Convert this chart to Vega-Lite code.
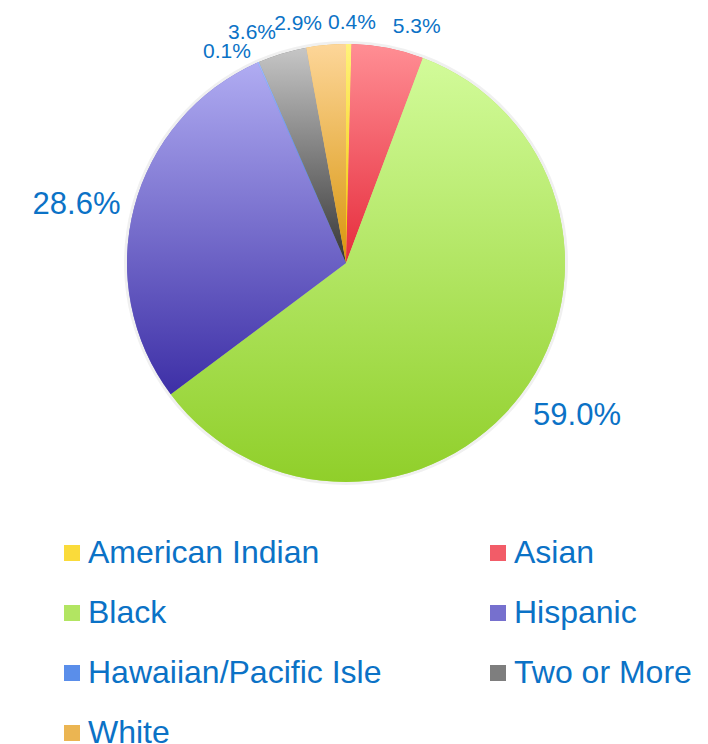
{
  "$schema": "https://vega.github.io/schema/vega-lite/v6.json",
  "width": 692,
  "height": 526,
  "padding": 0,
  "background": "white",
  "config": {"view": {"stroke": null}},
  "params": [
    {
      "name": "grad",
      "value": {
        "American Indian": {"gradient": "linear", "x1": 0, "y1": 0, "x2": 0, "y2": 1, "stops": [{"offset": 0, "color": "#FFF27A"}, {"offset": 1, "color": "#F5C400"}]},
        "Asian": {"gradient": "linear", "x1": 0, "y1": 0, "x2": 0, "y2": 1, "stops": [{"offset": 0, "color": "#FF8E94"}, {"offset": 1, "color": "#E62C3C"}]},
        "Black": {"gradient": "linear", "x1": 0, "y1": 0, "x2": 0, "y2": 1, "stops": [{"offset": 0, "color": "#D2FB9A"}, {"offset": 1, "color": "#90CF2A"}]},
        "Hispanic": {"gradient": "linear", "x1": 0, "y1": 0, "x2": 0, "y2": 1, "stops": [{"offset": 0, "color": "#B0ACF2"}, {"offset": 1, "color": "#3D2FA6"}]},
        "Hawaiian/Pacific Isle": {"gradient": "linear", "x1": 0, "y1": 0, "x2": 0, "y2": 1, "stops": [{"offset": 0, "color": "#A0BCFF"}, {"offset": 1, "color": "#1560D6"}]},
        "Two or More": {"gradient": "linear", "x1": 0, "y1": 0, "x2": 0, "y2": 1, "stops": [{"offset": 0, "color": "#C6C6C6"}, {"offset": 1, "color": "#363636"}]},
        "White": {"gradient": "linear", "x1": 0, "y1": 0, "x2": 0, "y2": 1, "stops": [{"offset": 0, "color": "#FDD699"}, {"offset": 1, "color": "#D8950C"}]}
      }
    }
  ],
  "data": {
    "values": [
      {"race": "American Indian", "pct": 0.4, "label": "0.4%", "rank": 1},
      {"race": "Asian", "pct": 5.3, "label": "5.3%", "rank": 2},
      {"race": "Black", "pct": 59.0, "label": "59.0%", "rank": 3},
      {"race": "Hispanic", "pct": 28.6, "label": "28.6%", "rank": 4},
      {"race": "Hawaiian/Pacific Isle", "pct": 0.1, "label": "0.1%", "rank": 5},
      {"race": "Two or More", "pct": 3.6, "label": "3.6%", "rank": 6},
      {"race": "White", "pct": 2.9, "label": "2.9%", "rank": 7}
    ]
  },
  "encoding": {
    "theta": {"field": "pct", "type": "quantitative", "stack": true},
    "order": {"field": "rank", "type": "quantitative"}
  },
  "layer": [
    {
      "mark": {"type": "arc", "outerRadius": 222, "fill": "#000000", "opacity": 0.06}
    },
    {
      "mark": {"type": "arc", "outerRadius": 219},
      "encoding": {
        "color": {
          "field": "race",
          "type": "nominal",
          "sort": null,
          "scale": {
            "domain": ["American Indian", "Asian", "Black", "Hispanic", "Hawaiian/Pacific Isle", "Two or More", "White"],
            "range": ["#FADB3A", "#F25C68", "#B2E562", "#7670CE", "#5A8EEA", "#7E7E7E", "#EBB552"]
          },
          "legend": {
            "title": null,
            "orient": "none",
            "direction": "horizontal",
            "legendX": 56,
            "legendY": 537,
            "columns": 2,
            "columnPadding": 100,
            "rowPadding": 28,
            "padding": 0,
            "symbolType": "square",
            "symbolSize": 256,
            "symbolStrokeWidth": 0,
            "labelFont": "Liberation Sans",
            "labelFontSize": 32,
            "labelColor": "#0B72C6",
            "labelOffset": 0,
            "labelLimit": 500,
            "symbolOpacity": 1
          }
        }
      }
    },
    {
      "mark": {"type": "arc", "outerRadius": 219, "fill": {"expr": "grad[datum.race]"}, "opacity": 1}
    },
    {
      "mark": {
        "type": "text",
        "radius": 230,
        "font": "Liberation Sans",
        "fontSize": {"expr": "datum.pct > 20 ? 31 : 21"},
        "color": "#0B72C6",
        "dx": {"expr": "sin(PI * (datum.pct_start + datum.pct_end) / 99.9) >= 0 ? 3 : -3"},
        "align": {"expr": "abs(sin(PI * (datum.pct_start + datum.pct_end) / 99.9)) < 0.05 ? 'center' : (sin(PI * (datum.pct_start + datum.pct_end) / 99.9) >= 0 ? 'left' : 'right')"},
        "baseline": {"expr": "cos(PI * (datum.pct_start + datum.pct_end) / 99.9) > 0.93 ? 'bottom' : (cos(PI * (datum.pct_start + datum.pct_end) / 99.9) < -0.5 ? 'top' : 'middle')"}
      },
      "encoding": {
        "text": {"field": "label", "type": "nominal"}
      }
    }
  ]
}
